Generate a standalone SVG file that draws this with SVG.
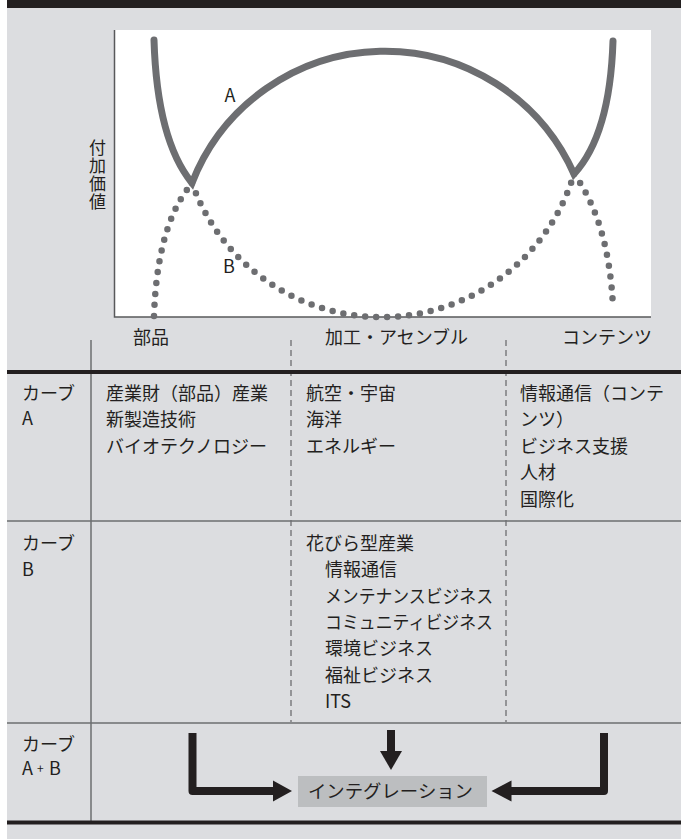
<svg xmlns="http://www.w3.org/2000/svg" width="681" height="839" viewBox="0 0 681 839">
<style>
text{font-family:"Noto Sans CJK JP","Noto Sans",sans-serif;fill:#231f20;font-size:18px}
.grid{stroke:#6d6e71;stroke-width:1.5;fill:none}
.dash{stroke:#6d6e71;stroke-width:1.3;stroke-dasharray:6 4;fill:none}
.thick{stroke:#231f20;stroke-width:4;fill:none}
.curveA{stroke:#6d6e71;stroke-width:7;fill:none;stroke-linecap:round;stroke-linejoin:miter}
.curveB{stroke:#6d6e71;stroke-width:6.5;fill:none;stroke-linecap:round;stroke-dasharray:0 11}
.arr{stroke:#231f20;stroke-width:8;fill:none;stroke-linejoin:round}
.head{fill:#231f20}
</style>
<rect x="0" y="0" width="681" height="839" fill="#ffffff"/>
<rect x="7" y="0" width="674" height="839" fill="#dcdde0"/>
<rect x="7" y="0" width="674" height="8" fill="#231f20"/>

<g id="chart">
  <rect x="114.5" y="30" width="536.5" height="287" fill="#ffffff"/>
  <path d="M114.5,30 V317 H651" stroke="#58595b" stroke-width="1.5" fill="none"/>
  <path class="curveA" d="M154,40 Q157,140 192,183 A207,207 0 0 1 574,174 Q610,135 613,41"/>
  <path class="curveB" d="M154,316 Q157,228 189,187"/>
  <path class="curveB" d="M192,183 A201,201 0 0 0 574,174"/>
  <path class="curveB" d="M574,174 Q609,222 613,307"/>
  <text x="230" y="101.5" text-anchor="middle">A</text>
  <text x="229" y="273" text-anchor="middle">B</text>
  <text id="yaxis-label" x="97.5" y="139" writing-mode="vertical-rl" style="font-size:17px;letter-spacing:1px">付加価値</text>
</g>

<g id="categories">
  <text x="133" y="344">部品</text>
  <text x="325" y="344">加工・アセンブル</text>
  <text x="562" y="344">コンテンツ</text>
</g>

<g id="table-lines">
  <line class="grid" x1="91" y1="340" x2="91" y2="822"/>
  <line class="dash" x1="291" y1="340" x2="291" y2="722"/>
  <line class="dash" x1="506" y1="340" x2="506" y2="722"/>
  <line class="thick" x1="7" y1="372" x2="681" y2="372"/>
  <line class="grid" x1="7" y1="521" x2="681" y2="521"/>
  <line class="grid" x1="7" y1="723" x2="681" y2="723"/>
  <line class="thick" x1="7" y1="822.5" x2="681" y2="822.5"/>
</g>

<g id="rowA">
  <text x="22" y="399.5">カーブ</text>
  <text x="22" y="425">A</text>
  <text x="106" y="399.5">産業財（部品）産業</text>
  <text x="106" y="426">新製造技術</text>
  <text x="106" y="452.5">バイオテクノロジー</text>
  <text x="306" y="399.5">航空・宇宙</text>
  <text x="306" y="426">海洋</text>
  <text x="306" y="452.5">エネルギー</text>
  <text x="520" y="399.5">情報通信（コンテ</text>
  <text x="520" y="426">ンツ）</text>
  <text x="520" y="452.5">ビジネス支援</text>
  <text x="520" y="479">人材</text>
  <text x="520" y="505.5">国際化</text>
</g>

<g id="rowB">
  <text x="22" y="550">カーブ</text>
  <text x="22" y="576">B</text>
  <text x="306" y="550">花びら型産業</text>
  <text x="325" y="576.3">情報通信</text>
  <text x="325" y="602.6" textLength="168" lengthAdjust="spacingAndGlyphs">メンテナンスビジネス</text>
  <text x="325" y="629" textLength="168" lengthAdjust="spacingAndGlyphs">コミュニティビジネス</text>
  <text x="325" y="655.3">環境ビジネス</text>
  <text x="325" y="681.6">福祉ビジネス</text>
  <text x="325" y="708">ITS</text>
</g>

<g id="rowAB">
  <text x="22" y="750.5">カーブ</text>
  <text x="22" y="775">A</text>
  <text x="37" y="773" style="font-size:12px">+</text>
  <text x="49" y="775">B</text>
</g>

<g id="integration">
  <rect x="298" y="776" width="189" height="31" fill="#bcbec0"/>
  <text x="308" y="798" textLength="165" lengthAdjust="spacingAndGlyphs">インテグレーション</text>
</g>

<g id="connectors">
  <path class="arr" d="M192.5,733 V791 H276"/>
  <polygon class="head" points="273,780.5 292,791 273,801.5"/>
  <line class="arr" x1="391" y1="730" x2="391" y2="753"/>
  <polygon class="head" points="380,751 402,751 391,770"/>
  <path class="arr" d="M604,733 V791 H509"/>
  <polygon class="head" points="511.5,780.5 491.5,791 511.5,801.5"/>
</g>
</svg>
